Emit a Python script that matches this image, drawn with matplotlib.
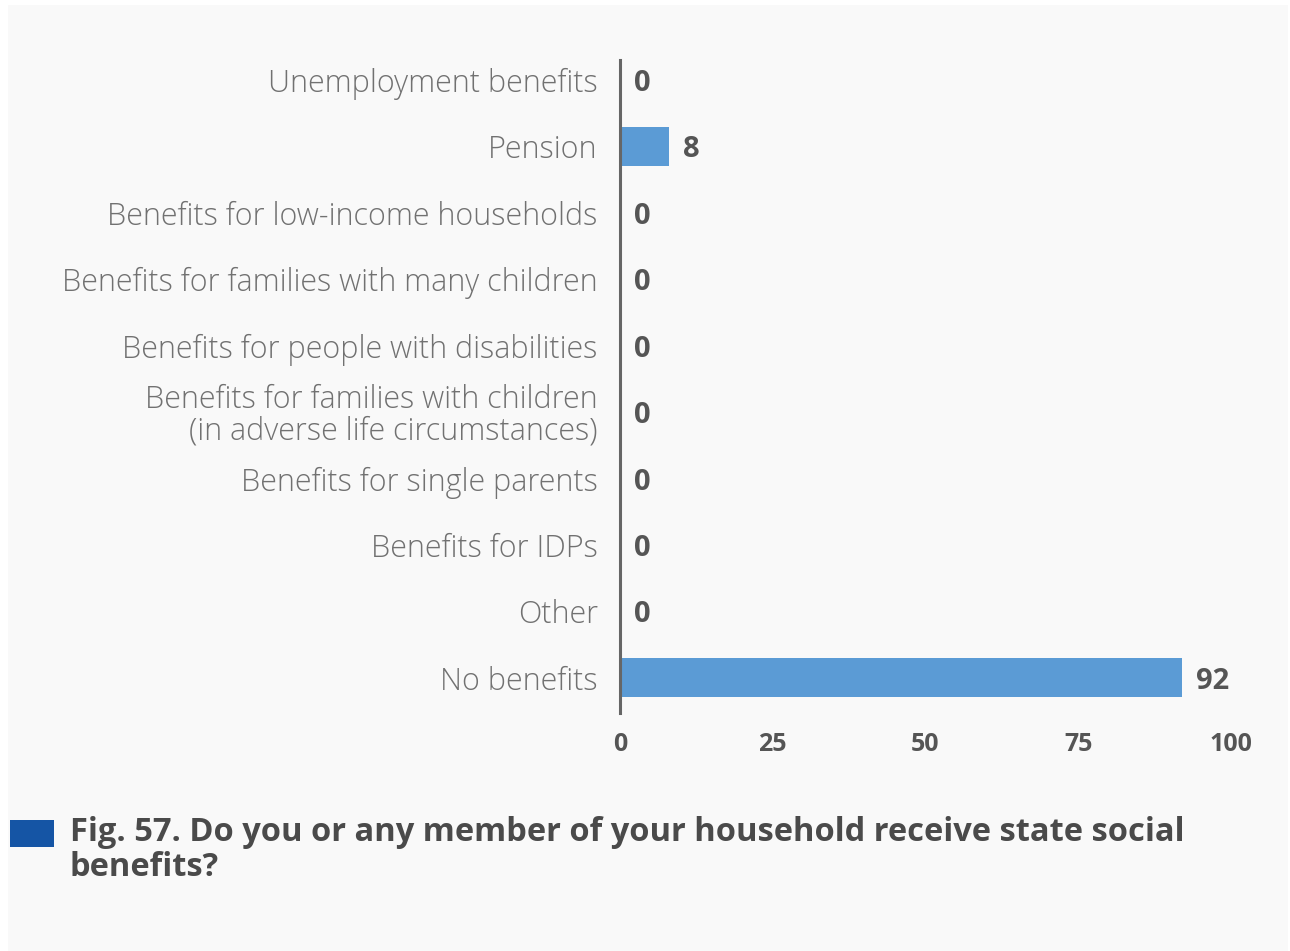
import matplotlib.pyplot as plt
from matplotlib.patches import Rectangle

categories = [
    "Unemployment benefits",
    "Pension",
    "Benefits for low-income households",
    "Benefits for families with many children",
    "Benefits for people with disabilities",
    "Benefits for families with children\n(in adverse life circumstances)",
    "Benefits for single parents",
    "Benefits for IDPs",
    "Other",
    "No benefits",
]
values = [0, 8, 0, 0, 0, 0, 0, 0, 0, 92]
x_ticks = [0, 25, 50, 75, 100]
title = "Fig. 57. Do you or any member of your household receive state social\nbenefits?"

BAR_COLOR = "#5b9bd5"
LABEL_GRAY = "#717171"
DARK_GRAY = "#555555"

plt.rcParams["font.family"] = ["Open Sans", "DejaVu Sans"]

fig = plt.figure(figsize=(12.9, 9.51), dpi=100)
fig.patch.set_facecolor("white")
fig.patches.append(Rectangle((8 / 1290, 0), 1 - 10 / 1290, 1 - 5 / 951,
                             transform=fig.transFigure, facecolor="#f9f9f9",
                             edgecolor="none", zorder=-10))

ax = fig.add_axes([620 / 1290, (951 - 713) / 951, (1231 - 620) / 1290, 653 / 951])
ax.set_facecolor("none")

pos = list(range(len(categories)))
ax.barh(pos, values, height=0.59, color=BAR_COLOR)
for p, v in zip(pos, values):
    ax.text(v + 2.3, p, str(v), va="center_baseline", ha="left", fontsize=21,
            fontweight="bold", color=DARK_GRAY)

ax.set_xlim(0, 100)
ax.set_ylim(9.53, -0.3)
ax.set_yticks(pos)
ax.set_yticklabels(categories, fontsize=22, fontweight="light", color=LABEL_GRAY,
                   linespacing=0.98)
ax.set_xticks(x_ticks)
ax.set_xticklabels([str(t) for t in x_ticks], fontsize=18, fontweight="bold",
                   color=DARK_GRAY)
ax.tick_params(axis="both", length=0)
ax.tick_params(axis="y", pad=16)
ax.tick_params(axis="x", pad=14)
for s in ["top", "right", "bottom"]:
    ax.spines[s].set_visible(False)
ax.spines["left"].set_color("#666666")
ax.spines["left"].set_linewidth(2.2)

fig.patches.append(Rectangle((10 / 1290, (951 - 847) / 951), 44 / 1290, 27 / 951,
                             transform=fig.transFigure, facecolor="#1555a5",
                             edgecolor="none"))
fig.text(70 / 1290, (951 - 816) / 951, title, ha="left", va="top", fontsize=23.5,
         fontweight="bold", color="#4a4a4a", linespacing=1.08)

fig.savefig("out.png", dpi=100, facecolor=fig.get_facecolor())
